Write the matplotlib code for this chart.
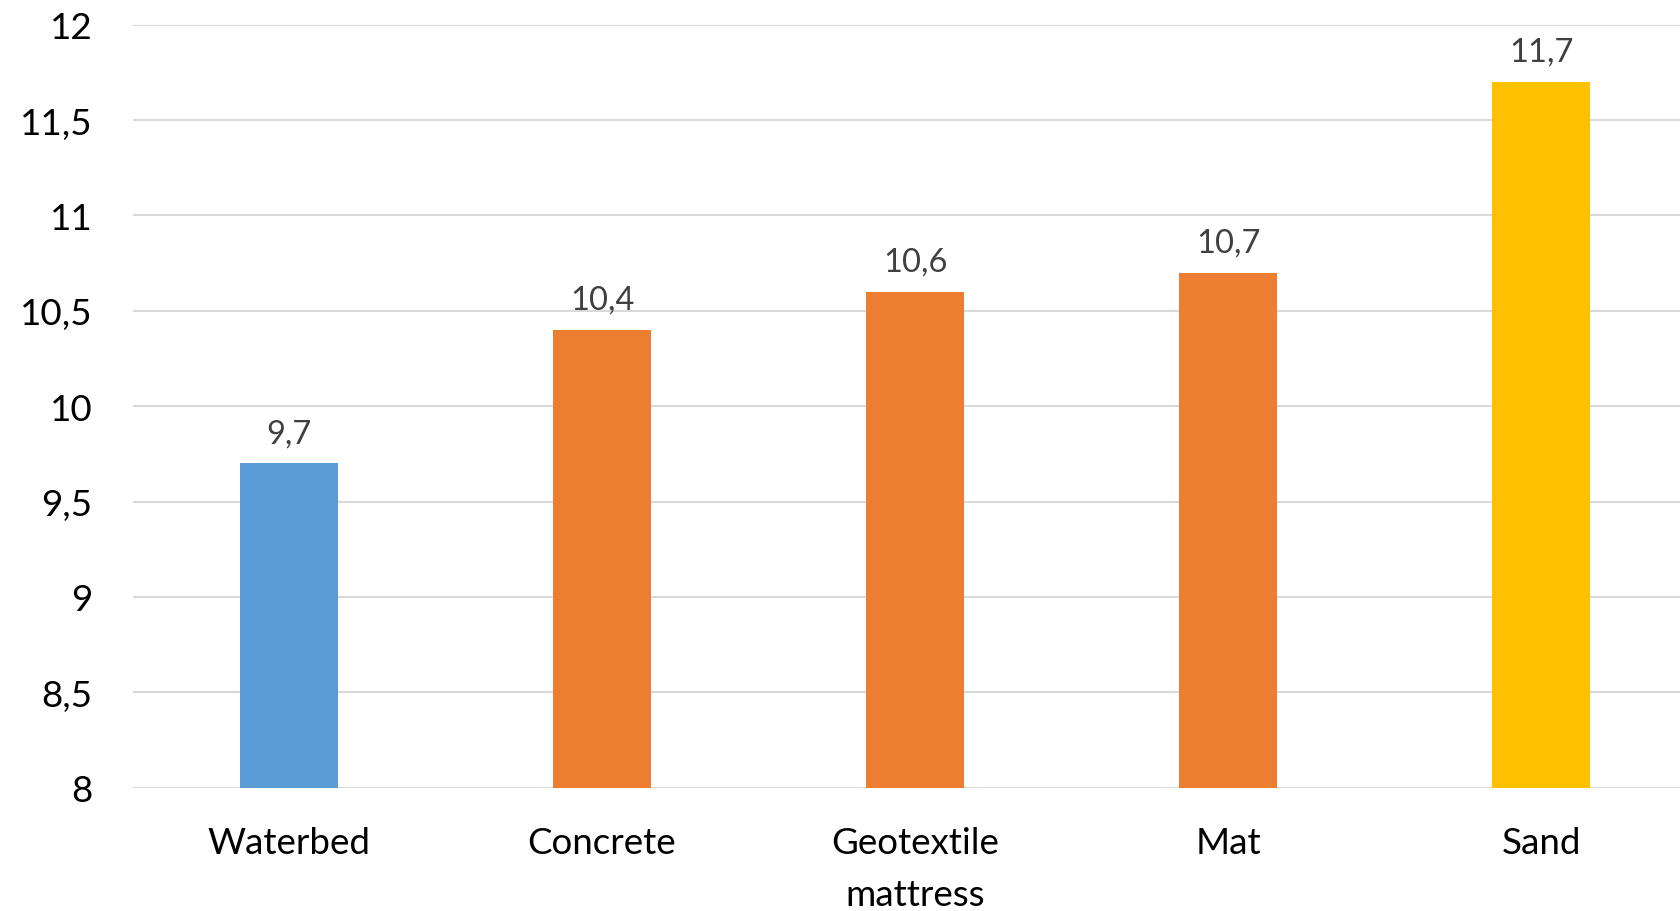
import matplotlib

matplotlib.use("Agg")
import matplotlib.pyplot as plt  # noqa: E402
import matplotlib.ticker as mticker  # noqa: E402

categories = ["Waterbed", "Concrete", "Geotextile\nmattress", "Mat", "Sand"]
values = [9.7, 10.4, 10.6, 10.7, 11.7]
bar_colors = ["#5B9BD5", "#ED7D31", "#ED7D31", "#ED7D31", "#FFC000"]
y_ticks = [8, 8.5, 9, 9.5, 10, 10.5, 11, 11.5, 12]


def _comma(v, _pos=None):
    # decimal comma, drop trailing ",0"
    s = f"{v:g}"
    return s.replace(".", ",")


plt.rcParams["font.family"] = ["Lato", "DejaVu Sans"]

fig = plt.figure(figsize=(16.8, 9.12), dpi=100)
# right edge runs past the canvas so the last slot is cut off
ax = fig.add_axes([132.5 / 1680, 1 - 788.6 / 912, 1565 / 1680, (788.6 - 25.7) / 912])

x = range(len(categories))
bars = ax.bar(x, values, width=0.315, color=bar_colors, zorder=3)

ax.set_xlim(-0.5, len(categories) - 0.5)
ax.set_ylim(8, 12)
ax.set_yticks(y_ticks)
ax.yaxis.set_major_formatter(mticker.FuncFormatter(_comma))
ax.set_xticks(list(x))
ax.set_xticklabels(categories, linespacing=1.7)

ax.grid(axis="y", color="#d9d9d9", linewidth=1.5, zorder=0)
for side in ("top", "right", "left", "bottom"):
    ax.spines[side].set_visible(False)
ax.tick_params(axis="both", length=0, labelsize=26.5, colors="black")
ax.tick_params(axis="y", pad=29)
ax.tick_params(axis="x", pad=28)

for rect, v in zip(bars, values):
    ax.annotate(_comma(v), xy=(rect.get_x() + rect.get_width() / 2, v),
                xytext=(0, 11), textcoords="offset points",
                ha="center", va="bottom", fontsize=23.5, color="#404040")

fig.savefig("out.png", dpi=100)
plt.close(fig)
